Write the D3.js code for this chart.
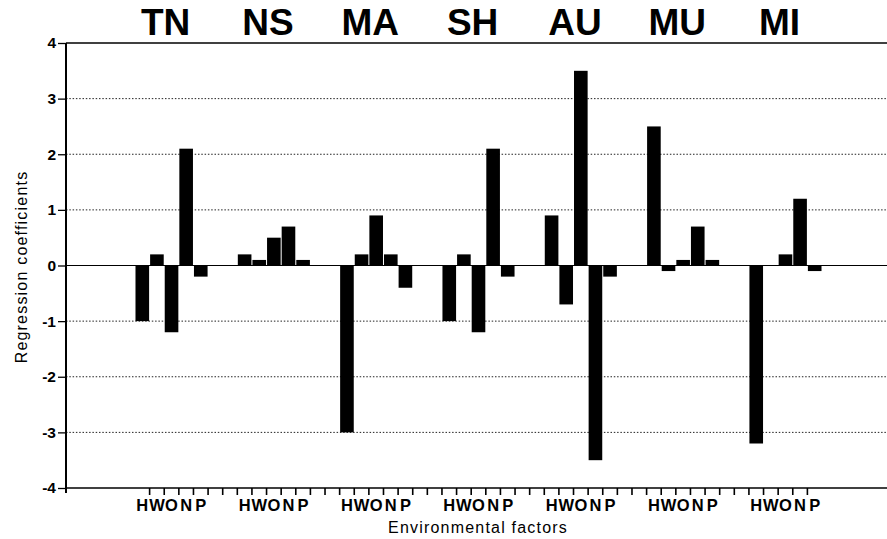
<!DOCTYPE html>
<html>
<head>
<meta charset="utf-8">
<script src="https://cdn.jsdelivr.net/npm/d3@7"></script>
<style>
  html, body { margin: 0; padding: 0; background: #fff; }
  svg { display: block; }
  text { font-family: "Liberation Sans", Arial, Helvetica, sans-serif; fill: #000; }
</style>
</head>
<body>
<svg id="chart" width="887" height="539"></svg>
<script>
// ---- data ----
const groups  = ["TN", "NS", "MA", "SH", "AU", "MU", "MI"];
const factors = ["H", "W", "O", "N", "P"];
const TN = [-1.0,  0.2, -1.2,  2.1, -0.2];
const NS = [ 0.2,  0.1,  0.5,  0.7,  0.1];
const MA = [-3.0,  0.2,  0.9,  0.2, -0.4];
const SH = [-1.0,  0.2, -1.2,  2.1, -0.2];
const AU = [ 0.9, -0.7,  3.5, -3.5, -0.2];
const MU = [ 2.5, -0.1,  0.1,  0.7,  0.1];
const MI = [-3.2,  0.0,  0.2,  1.2, -0.1];
const seriesByGroup = [TN, NS, MA, SH, AU, MU, MI];
const yTicks = [-4, -3, -2, -1, 0, 1, 2, 3, 4];
const yTitle = "Regression coefficients";
const xTitle = "Environmental factors";

// ---- layout ----
const svg = d3.select("#chart");
const mLeft = 66, mRight = 891, mTop = 43, mBottom = 488;
const slotsPerGroup = 7;
const nSlots = (groups.length - 1) * slotsPerGroup + factors.length;

const x = d3.scaleBand()
  .domain(d3.range(nSlots))
  .range([mLeft, mRight])
  .paddingInner(0)
  .paddingOuter(4.72);
const y = d3.scaleLinear().domain([-4, 4]).range([mBottom, mTop]);

const bars = [];
seriesByGroup.forEach((vals, gi) => {
  vals.forEach((v, fi) => bars.push({ g: groups[gi], f: factors[fi], v, slot: gi * slotsPerGroup + fi }));
});

// gridlines
const g = svg.append("g");
g.selectAll("line.grid")
  .data(yTicks.filter(t => t !== 0 && Math.abs(t) !== 4))
  .join("line")
  .attr("class", "grid")
  .attr("x1", mLeft).attr("x2", 887)
  .attr("y1", d => y(d)).attr("y2", d => y(d))
  .attr("stroke", "#222").attr("stroke-width", 1)
  .attr("stroke-dasharray", "1.5,1.8");

// top border
g.append("line").attr("x1", mLeft).attr("x2", 887).attr("y1", y(4)).attr("y2", y(4))
  .attr("stroke", "#000").attr("stroke-width", 1.5);
// zero line
g.append("line").attr("x1", mLeft).attr("x2", 887).attr("y1", y(0)).attr("y2", y(0))
  .attr("stroke", "#000").attr("stroke-width", 1.2);

// bars
g.selectAll("rect.bar")
  .data(bars.filter(d => d.v !== 0))
  .join("rect")
  .attr("class", "bar")
  .attr("x", d => x(d.slot) + 0.5)
  .attr("width", x.bandwidth() - 1)
  .attr("y", d => y(Math.max(0, d.v)))
  .attr("height", d => Math.abs(y(d.v) - y(0)))
  .attr("fill", "#000");

// slot-boundary tick marks (left edge of every slot after the first)
const tickSlots = d3.range(1, nSlots);
svg.append("g").attr("class", "xticks")
  .selectAll("rect")
  .data(tickSlots)
  .join("rect")
  .attr("x", d => x(d) - 0.8)
  .attr("y", mBottom)
  .attr("width", 1.6)
  .attr("height", 7)
  .attr("fill", "#000");
svg.append("line").attr("x1", mLeft).attr("x2", 887).attr("y1", mBottom).attr("y2", mBottom)
  .attr("stroke", "#000").attr("stroke-width", 1.5);

// factor letters
svg.selectAll("text.fac")
  .data(bars)
  .join("text")
  .attr("class", "fac")
  .attr("x", d => x(d.slot) + x.bandwidth() / 2)
  .attr("y", 511)
  .attr("text-anchor", "middle")
  .attr("font-size", 16.5)
  .attr("font-weight", "bold")
  .text(d => d.f);

// y axis
const yAxis = d3.axisLeft(y).tickValues(yTicks).tickSize(8).tickPadding(2).tickFormat(d => String(d));
const ya = svg.append("g").attr("transform", `translate(${mLeft},0)`).call(yAxis);
ya.select(".domain").remove();
ya.selectAll(".tick line").attr("stroke", "#000").attr("stroke-width", 1.3);
ya.selectAll(".tick text").attr("font-size", 15.5).attr("font-weight", "bold")
  .attr("font-family", "\"Liberation Sans\", Arial, sans-serif").attr("fill", "#000");
svg.append("line").attr("x1", mLeft).attr("x2", mLeft).attr("y1", mTop).attr("y2", mBottom + 5)
  .attr("stroke", "#000").attr("stroke-width", 2);

// group titles
svg.selectAll("text.gt")
  .data(groups)
  .join("text")
  .attr("class", "gt")
  .attr("x", (d, i) => x(i * slotsPerGroup) + 2.1 * x.step())
  .attr("y", 35)
  .attr("text-anchor", "middle")
  .attr("font-size", 37)
  .attr("font-weight", "bold")
  .text(d => d);

// axis titles
svg.append("text")
  .attr("transform", "translate(27,267) rotate(-90)")
  .attr("text-anchor", "middle")
  .attr("font-size", 16)
  .attr("letter-spacing", 1.2)
  .text(yTitle);
svg.append("text")
  .attr("x", 478).attr("y", 533)
  .attr("text-anchor", "middle")
  .attr("font-size", 16)
  .attr("letter-spacing", 1.2)
  .text(xTitle);
</script>
</body>
</html>
